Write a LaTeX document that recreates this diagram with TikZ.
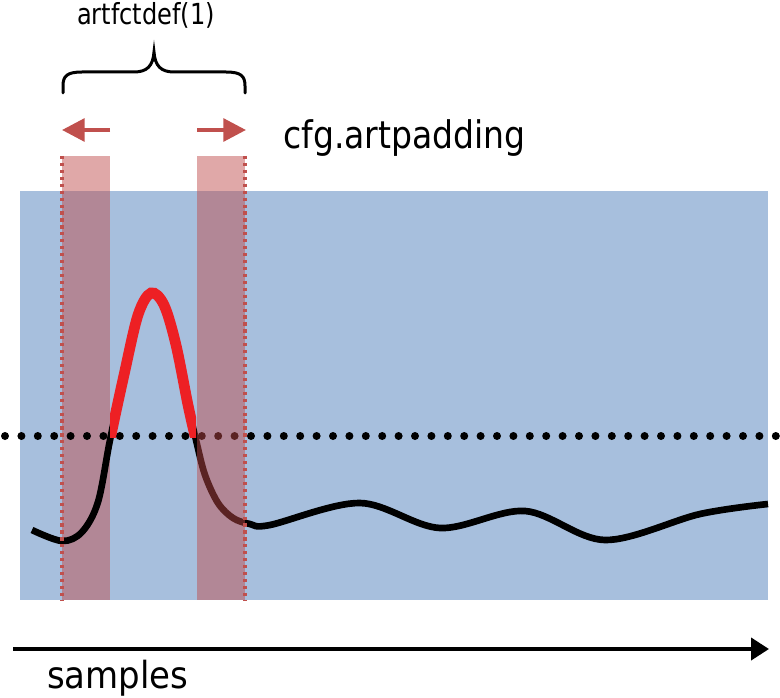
\documentclass[tikz,border=0pt]{standalone}
\usepackage{fontspec}
\setmainfont{DejaVu Sans}
\usetikzlibrary{arrows.meta}
\definecolor{bluebg}{RGB}{167,191,221}
\definecolor{padred}{RGB}{190,74,74}
\definecolor{arrred}{RGB}{192,80,77}
\definecolor{peakred}{RGB}{237,32,36}
\begin{document}
\begin{tikzpicture}[x=0.75pt,y=-0.75pt,
  padbox/.style={fill=padred,fill opacity=0.48,draw=none},
  paddots/.style={draw=arrred,line width=2.8pt,dash pattern=on 2.4pt off 2.8pt},
  sigline/.style={line width=5pt,black},
  peakline/.style={line width=8pt,peakred},
  padarrow/.style={arrred,line width=3pt,-{Triangle[length=17pt,width=17pt]}},
  axisarrow/.style={black,line width=3pt,-{Triangle[length=13.5pt,width=16.5pt]}},
  bracestyle/.style={black,line width=2.25pt,line cap=round},
  lbl/.style={inner sep=0pt,text=black}]
\useasboundingbox (0,0) rectangle (780,698);
% background
\fill[bluebg] (20,191) rectangle (768,600);
% left padding box (under the signal)
\fill[padbox] (62,156) rectangle (110,600);
% threshold dots
\foreach \i in {0,...,47} \fill[black] (5+\i*16.4,436) circle (3pt);
% signal
\draw[sigline] plot[smooth,tension=0.55] coordinates {(32,530) (62,541) (82,532) (98,502) (110,440) (124,375) (138,315) (151,293) (164,305) (176,345) (188,405) (196,440) (205,475) (218,503) (233,518) (250,524) (270,525) (360,503) (440,528) (525,511) (605,540) (700,514) (768,504)};
\begin{scope}
  \clip (110,250) rectangle (196,437);
  \draw[peakline] plot[smooth,tension=0.55] coordinates {(32,530) (62,541) (82,532) (98,502) (110,440) (124,375) (138,315) (151,293) (164,305) (176,345) (188,405) (196,440) (205,475) (218,503) (233,518) (250,524) (270,525) (360,503) (440,528) (525,511) (605,540) (700,514) (768,504)};
\end{scope}
% right padding box (over the signal)
\fill[padbox] (197,156) rectangle (245,600);
% dotted borders
\coordinate (lt) at (62,156); \coordinate (lb) at (62,600);
\coordinate (rt) at (245,156); \coordinate (rb) at (245,600);
\draw[paddots] (lt) -- (lb);
\draw[paddots] (rt) -- (rb);
% padding arrows
\coordinate (la0) at (110,130); \coordinate (la1) at (62,130);
\coordinate (ra0) at (197,130); \coordinate (ra1) at (246,130);
\draw[padarrow] (la0) -- (la1);
\draw[padarrow] (ra0) -- (ra1);
% brace
\draw[bracestyle] (63,93) -- (63,86) .. controls (63,76) and (67,72) .. (82,72) -- (134,72) .. controls (147,72) and (153,66) .. (154,52) .. controls (155,66) and (161,72) .. (174,72) -- (226,72) .. controls (241,72) and (245,76) .. (245,86) -- (245,93);
% labels
\node[lbl,anchor=base,font=\fontsize{21.75pt}{24pt}\selectfont] (deflbl) at (146,25) {\scalebox{0.83}[1]{artfctdef(1)}};
\node[lbl,anchor=base west,font=\fontsize{28.5pt}{31pt}\selectfont] (padlbl) at (283,149) {\scalebox{0.87}[1]{cfg.artpadding}};
% axis
\coordinate (ax0) at (13,649); \coordinate (ax1) at (769,649);
\draw[axisarrow] (ax0) -- (ax1);
\node[lbl,anchor=base west,font=\fontsize{28pt}{31pt}\selectfont] (samplbl) at (47,688) {\scalebox{0.91}[1]{samples}};
\end{tikzpicture}
\end{document}
